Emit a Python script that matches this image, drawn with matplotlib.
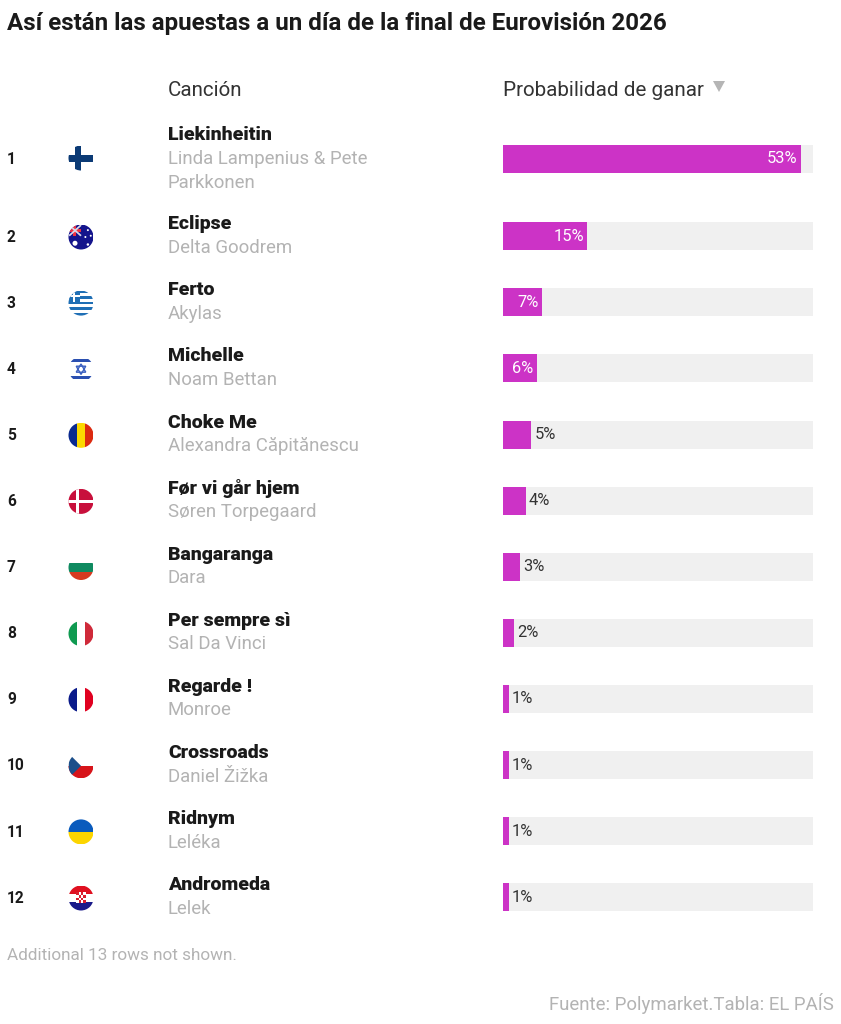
import matplotlib
matplotlib.use("Agg")
import matplotlib.pyplot as plt
from matplotlib.patches import Circle, Rectangle, Polygon

ranks = list(range(1, 13))
songs = ["Liekinheitin", "Eclipse", "Ferto", "Michelle", "Choke Me", "Før vi går hjem",
         "Bangaranga", "Per sempre sì", "Regarde !", "Crossroads", "Ridnym", "Andromeda"]
artists = ["Linda Lampenius & Pete\nParkkonen", "Delta Goodrem", "Akylas", "Noam Bettan",
           "Alexandra Căpitănescu", "Søren Torpegaard", "Dara", "Sal Da Vinci", "Monroe",
           "Daniel Žižka", "Leléka", "Lelek"]
probs = [53, 15, 7, 6, 5, 4, 3, 2, 1, 1, 1, 1]
flags = ["fi", "au", "gr", "il", "ro", "dk", "bg", "it", "fr", "cz", "ua", "hr"]
title = "Así están las apuestas a un día de la final de Eurovisión 2026"
AXIS_MAX = 55

W, H = 841, 1024
FONT = "Roboto"
fig = plt.figure(figsize=(W / 100, H / 100), dpi=100, facecolor="white")
ax = fig.add_axes([0, 0, 1, 1])
ax.set_xlim(0, W); ax.set_ylim(H, 0); ax.axis("off")

# Bars live on their own value axis; y stays in pixel rows
bx0, bx1 = 503, 812.5
bax = fig.add_axes([bx0 / W, 0, (bx1 - bx0) / W, 1])
bax.set_xlim(0, AXIS_MAX); bax.set_ylim(H, 0); bax.axis("off")
bax.patch.set_alpha(0)

row_y = [158.5] + [236.2 + 66.1 * i for i in range(11)]
DARK, GREY = "#1a1a1a", "#b3b3b3"
BAR, TRACK = "#cc33c6", "#f0f0f0"

def flag(kind, cx, cy, r=12.5):
    clip = Circle((cx, cy), r, transform=ax.transData)
    def rect(x0, y0, x1, y1, c):
        p = Rectangle((cx + x0 * r, cy + y0 * r), (x1 - x0) * r, (y1 - y0) * r,
                      fc=c, ec="none", zorder=3)
        ax.add_patch(p); p.set_clip_path(clip); return p
    def poly(pts, c, z=4):
        p = Polygon([(cx + a * r, cy + b * r) for a, b in pts], fc=c, ec="none", zorder=z)
        ax.add_patch(p); p.set_clip_path(clip); return p
    if kind == "fi":
        rect(-1, -.28, 1, .28, "#0b3a75"); rect(-.5, -1, -.02, 1, "#0b3a75")
    elif kind == "au":
        rect(-1, -1, 1, 1, "#14148c")
        poly([(-1, -.9), (-.9, -1), (.05, -.15), (-.05, -.05)], "#d8d8e8")
        poly([(-1, -.15), (-.9, -.05), (.05, -.9), (-.05, -1)], "#d8d8e8")
        rect(-1, -.65, 0, -.42, "#f03040"); rect(-.6, -1, -.38, -.05, "#f03040")
        for sx, sy, sr in [(-.48, .5, .2), (.55, -.55, .08), (.35, 0, .08), (.78, -.1, .08), (.55, .6, .1)]:
            s = Circle((cx + sx * r, cy + sy * r), sr * r, fc="white", ec="none", zorder=5)
            ax.add_patch(s); s.set_clip_path(clip)
    elif kind == "gr":
        blue = "#1f6fb5"
        for i in range(0, 9, 2):
            rect(-1, -1 + i * 2 / 9, 1, -1 + (i + 1) * 2 / 9, blue)
        rect(-1, -1, -.1, -.1, blue)
        rect(-.65, -1, -.45, -.1, "white"); rect(-1, -.65, -.1, -.45, "white")
    elif kind == "il":
        rect(-.85, -.8, .85, -.55, "#2a4fb0"); rect(-.85, .55, .85, .8, "#2a4fb0")
        for sgn in (1, -1):
            ax.add_patch(Polygon([(cx, cy - sgn * .42 * r), (cx - .38 * r, cy + sgn * .24 * r),
                                  (cx + .38 * r, cy + sgn * .24 * r)], fc="none", ec="#3a5fc0", lw=1, zorder=4))
    elif kind == "ro":
        rect(-1, -1, -.33, 1, "#0b2a8f"); rect(-.33, -1, .33, 1, "#fcd800"); rect(.33, -1, 1, 1, "#dc2a10")
    elif kind == "dk":
        rect(-1, -1, 1, 1, "#c8103c"); rect(-1, -.13, 1, .13, "white"); rect(-.4, -1, -.14, 1, "white")
    elif kind == "bg":
        rect(-1, -.33, 1, .33, "#0f8a60"); rect(-1, .33, 1, 1, "#d63a20")
    elif kind == "it":
        rect(-1, -1, -.33, 1, "#0f9a50"); rect(.33, -1, 1, 1, "#cf2a3a")
    elif kind == "fr":
        rect(-1, -1, -.33, 1, "#0a1a8a"); rect(.33, -1, 1, 1, "#e00020")
    elif kind == "cz":
        rect(-1, 0, 1, 1, "#d7141a"); poly([(-1, -1), (0, 0), (-1, 1)], "#1c4f8a")
    elif kind == "ua":
        rect(-1, -1, 1, 0, "#0a5bbd"); rect(-1, 0, 1, 1, "#fcd500")
    elif kind == "hr":
        rect(-1, -1, 1, -.33, "#e01020"); rect(-1, .33, 1, 1, "#1a1a8a")
        rect(-.38, -.5, .38, .42, "white")
        for i in range(4):
            for j in range(4):
                if (i + j) % 2 == 0:
                    rect(-.38 + i * .19, -.5 + j * .23, -.19 + i * .19, -.27 + j * .23, "#d82030")

ax.text(7, 23.5, title, fontsize=17.35, fontweight="bold", family=FONT, color=DARK, va="center", ha="left")
ax.text(168, 90, "Canción", fontsize=14.8, family=FONT, color="#333333", va="center", ha="left")
ax.text(503, 90, "Probabilidad de ganar", fontsize=14.9, family=FONT, color="#333333", va="center", ha="left")
ax.add_patch(Polygon([(713, 81), (725, 81), (719, 92)], fc="#b5b5b5", ec="none"))

for i, (rk, song, art, p, fl, y) in enumerate(zip(ranks, songs, artists, probs, flags, row_y)):
    ax.text(7, y + 1, str(rk), fontsize=11.2, fontweight="bold", family=FONT, color=DARK, va="center", ha="left")
    flag(fl, 81, y + (-0.5 if i == 0 else 0.8))
    top = y - 24 if i == 0 else y - 12
    ax.text(168, top, song, fontsize=14, fontweight=900, family=FONT, color=DARK, va="center", ha="left")
    if "\n" in art:
        a, b = art.split("\n")
        ax.text(168, top + 24, a, fontsize=13.4, family=FONT, color=GREY, va="center", ha="left")
        ax.text(168, top + 48, b, fontsize=13.4, family=FONT, color=GREY, va="center", ha="left")
    else:
        ax.text(168, top + 23.5, art, fontsize=13.4, family=FONT, color=GREY, va="center", ha="left")
    bax.barh(y, AXIS_MAX, height=28, color=TRACK, zorder=1)
    bax.barh(y, p, height=28, color=BAR, zorder=2)
    label = f"{p}%"
    if p >= 6:
        bax.annotate(label, (p, y), xytext=(-2.5, 0), textcoords="offset points", ha="right", va="center",
                     fontsize=11.8, family=FONT, color="white", zorder=3)
    else:
        bax.annotate(label, (p, y), xytext=(2.5, 0), textcoords="offset points", ha="left", va="center",
                     fontsize=11.8, family=FONT, color="#333333", zorder=3)

ax.text(7, 955, "Additional 13 rows not shown.", fontsize=12.3, family=FONT, color=GREY, va="center", ha="left")
ax.text(834, 1003.5, "Fuente: Polymarket.Tabla: EL PAÍS", fontsize=13.4, family=FONT, color=GREY, va="center", ha="right")

fig.savefig("out.png", dpi=100, facecolor="white")
